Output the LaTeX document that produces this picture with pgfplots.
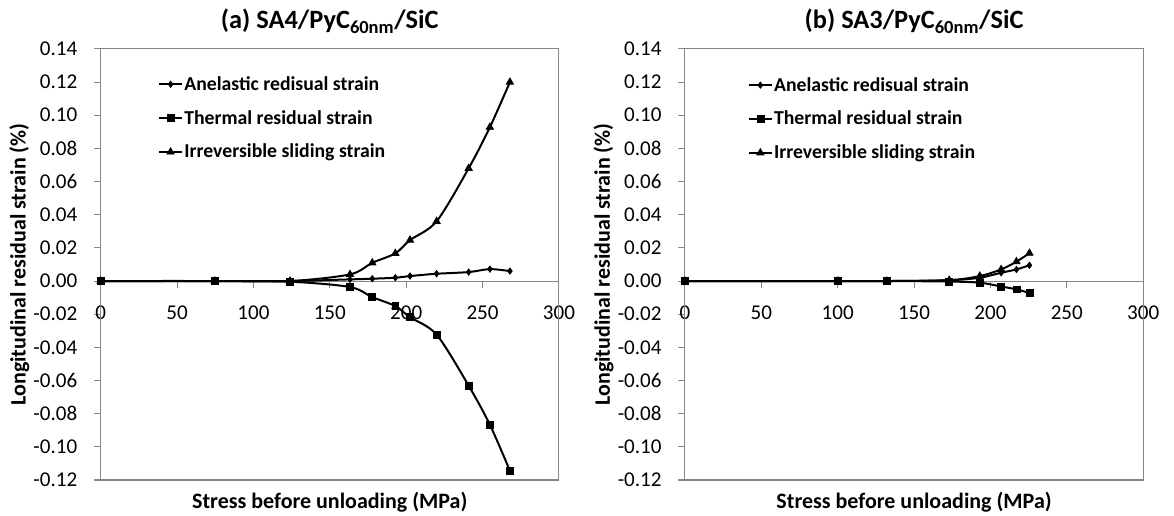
\documentclass[border=0pt]{standalone}
\usepackage{fontspec}
\setmainfont{Carlito}
\usepackage{pgfplots}
\pgfplotsset{compat=1.18}
\definecolor{axgray}{HTML}{868686}
\pgfplotsset{
  resstyle/.style={
    scale only axis,
    width=343.7pt, height=323.3pt,
    xmin=0, xmax=300, ymin=-0.12, ymax=0.14,
    axis x line*=middle, axis y line*=left,
    hide obscured x ticks=false,
    xtick={0,50,...,300},
    ytick={-0.12,-0.10,-0.08,-0.06,-0.04,-0.02,0,0.02,0.04,0.06,0.08,0.10,0.12,0.14},
    tick align=outside,
    major tick length=5pt,
    tick style={axgray, line width=0.8pt},
    axis line style={axgray, line width=0.8pt},
    /pgf/number format/.cd, fixed, fixed zerofill, precision=2, assume math mode=true,
    /pgfplots/.cd,
    xticklabel style={/pgf/number format/precision=0, /pgf/number format/fixed zerofill=false},
    ticklabel style={font=\fontsize{15.8}{18}\selectfont},
    yticklabel style={xshift=-9pt},
    xticklabel style={yshift=-10pt},
    clip=false,
    xlabel={Stress before unloading (MPa)},
    ylabel={Longitudinal residual strain (\%)},
    label style={font=\fontsize{16.5}{19}\selectfont\bfseries},
    xlabel style={at={(axis description cs:0.5,0)}, anchor=center, yshift=-17pt},
    ylabel style={at={(axis description cs:0,0.5)}, anchor=center, yshift=61pt},
    title style={at={(axis description cs:0.5,1)}, anchor=base, yshift=9pt, font=\fontsize{19.8}{23}\selectfont\bfseries},
    legend cell align=left,
    legend style={draw=none, fill=none, font=\fontsize{14.8}{17}\selectfont\bfseries, anchor=north west, row sep=13.5pt, inner sep=0pt, nodes={inner xsep=1pt, inner ysep=0pt}},
  },
  ln/.style={black, line width=1.5pt, smooth},
  an/.style={ln, mark=diamond*, mark size=2.4pt, mark options={solid, fill=black, line width=0.5pt}},
  th/.style={ln, mark=square*, mark size=2.6pt, mark options={solid, fill=black, line width=0.5pt}},
  ir/.style={ln, mark=triangle*, mark size=3.2pt, mark options={solid, fill=black, line width=0.5pt}},
}
\begin{document}
\begin{tikzpicture}
\useasboundingbox (-75.5pt,-27pt) rectangle (805pt,360pt);
\begin{axis}[resstyle, at={(0pt,0pt)}, anchor=south west,
  title={(a) SA4/PyC\textsubscript{60nm}/SiC},
  legend style={at={(axis description cs:0.125,0.937)}}]
\draw[axgray, line width=0.8pt] (rel axis cs:0,0) rectangle (rel axis cs:1,1);
\addplot[an] coordinates {(0,0) (74.8,0) (123.9,0) (163.2,0.001) (177.8,0.0014) (192.9,0.002) (202.5,0.003) (219.9,0.0044) (240.9,0.0054) (254.8,0.0072) (267.9,0.006)};
\addplot[th] coordinates {(0,0) (74.8,0) (123.9,-0.0004) (163.2,-0.0036) (177.8,-0.0097) (192.9,-0.0151) (202.5,-0.0218) (219.9,-0.0323) (240.9,-0.0631) (254.8,-0.0867) (267.9,-0.1144)};
\addplot[ir] coordinates {(0,0) (74.8,0) (123.9,0) (163.2,0.004) (177.8,0.011) (192.9,0.0167) (202.5,0.0247) (219.9,0.036) (240.9,0.068) (254.8,0.0928) (267.9,0.120)};
\legend{Anelastic redisual strain, Thermal residual strain, Irreversible sliding strain}
\end{axis}
\begin{axis}[resstyle, at={(438.2pt,0pt)}, anchor=south west,
  title={(b) SA3/PyC\textsubscript{60nm}/SiC},
  legend style={at={(axis description cs:0.137,0.935)}}]
\draw[axgray, line width=0.8pt] (rel axis cs:0,0) rectangle (rel axis cs:1,1);
\addplot[an] coordinates {(0,0) (100.2,0) (132.2,0) (173,0.0005) (193,0.002) (207,0.005) (217,0.007) (225.5,0.0095)};
\addplot[th] coordinates {(0,0) (100.2,0) (132.2,0) (173,-0.0003) (193,-0.001) (207,-0.0033) (217,-0.005) (225.5,-0.0072)};
\addplot[ir] coordinates {(0,0) (100.2,0) (132.2,0) (173,0.0005) (193,0.003) (207,0.007) (217,0.0117) (225.5,0.0168)};
\legend{Anelastic redisual strain, Thermal residual strain, Irreversible sliding strain}
\end{axis}
\end{tikzpicture}
\end{document}
